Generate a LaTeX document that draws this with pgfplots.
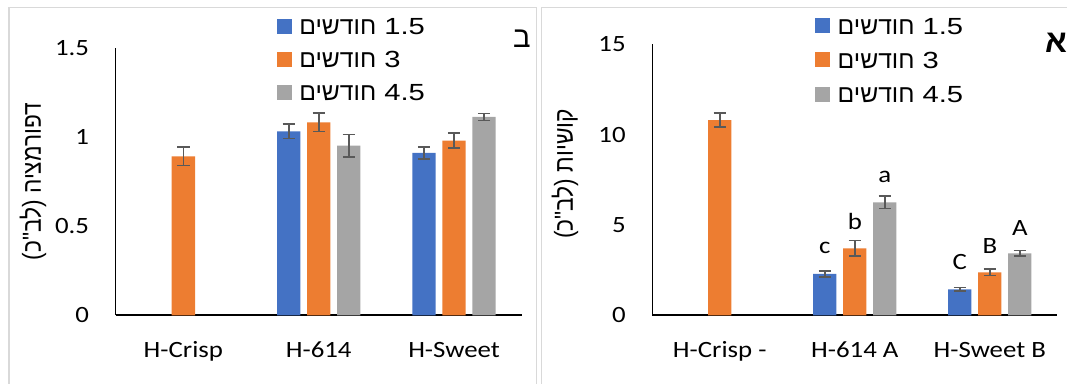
\documentclass[border=0pt]{standalone}
\usepackage{pgfplots}
\pgfplotsset{compat=1.18}
\usepackage{fontspec}
\setmainfont{Carlito}
\newfontfamily\tickfont[FakeStretch=1.15]{Carlito}
\newfontfamily\hebfont[Script=Hebrew]{Liberation Sans}
\newfontfamily\numfont[FakeStretch=1.25]{Liberation Sans}
\TeXXeTstate=1
\definecolor{cblue}{HTML}{4472C4}
\definecolor{corange}{HTML}{ED7D31}
\definecolor{cgray}{HTML}{A5A5A5}
\definecolor{errgray}{HTML}{595959}
\definecolor{framegray}{HTML}{D9D9D9}
\pgfplotsset{
  panel/.style={
    scale only axis,
    clip=false,
    ybar,
    bar width=17.5pt,
    enlargelimits=false,
    xmin=-0.5, xmax=2.5, ymin=0,
    xtick={0,1,2},
    axis x line=bottom, axis y line=left,
    x axis line style={-, line width=1.25pt, black},
    y axis line style={-, line width=0.7pt, black},
    major tick length=0pt,
    tick style={draw=none},
    yticklabel style={font=\tickfont\fontsize{17.5}{20}\selectfont, inner sep=0pt, anchor=east, xshift=-19.8pt},
    xticklabel style={font=\tickfont\fontsize{17.5}{20}\selectfont, inner sep=0pt, anchor=base, yshift=-32pt},
    legend cell align=left,
    legend style={draw=none, fill=none, inner sep=0pt, column sep=5.5pt,
      font=\hebfont\fontsize{18.5}{22}\selectfont,
      nodes={inner sep=0pt, text height=12.5pt, text depth=0pt}},
    legend image code/.code={\fill[##1] (0pt,-5.625pt) rectangle (11.25pt,5.625pt);},
    error bars/y dir=both, error bars/y explicit,
    error bars/error bar style={line width=1.2pt, errgray},
    error bars/error mark options={line width=1.2pt, errgray, mark size=4.6pt, rotate=90},
  },
}
\newcommand{\legtext}[1]{{\hebfont\beginR חודשים\endR}\hspace{6pt}{\numfont\fontsize{17.5}{20}\selectfont #1}}
\begin{document}
\begin{tikzpicture}
\useasboundingbox (0,0) rectangle (800.25pt,-287.25pt);
% panel frames
\draw[framegray, line width=1.1pt] (6.75pt,-300pt) -- (6.75pt,-5.5pt) -- (402.5pt,-5.5pt) -- (402.5pt,-300pt);
\draw[framegray, line width=1.1pt] (406.3pt,-300pt) -- (406.3pt,-5.5pt) -- (810pt,-5.5pt);

% ---------------- left panel (ב) ----------------
\begin{axis}[panel,
  at={(86.78pt,-236.48pt)}, anchor=south west,
  width=304.5pt, height=200.7pt,
  ymax=1.5, ytick={0,0.5,1,1.5}, yticklabels={0,0.5,1,1.5},
  xticklabels={H-Crisp,H-614,H-Sweet},
  legend style={at={(0.3966,1.111)}, anchor=north west, row sep=12.1pt},
]
\addlegendimage{fill=cblue, draw=none}
\addlegendimage{fill=corange, draw=none}
\addlegendimage{fill=cgray, draw=none}
\addplot[fill=cblue, draw=none, bar shift=-22.5pt, forget plot] coordinates {
  (1,1.031) +- (0,0.041)
  (2,0.910) +- (0,0.034)
};
\addplot[fill=corange, draw=none, bar shift=0pt, forget plot] coordinates {
  (0,0.891) +- (0,0.052)
  (1,1.082) +- (0,0.052)
  (2,0.979) +- (0,0.042)
};
\addplot[fill=cgray, draw=none, bar shift=22.5pt, forget plot] coordinates {
  (1,0.951) +- (0,0.062)
  (2,1.112) +- (0,0.020)
};
\legend{\legtext{1.5},\legtext{3},\legtext{4.5}}
\end{axis}

% ---------------- right panel (א) ----------------
\begin{axis}[panel,
  at={(489.23pt,-236.48pt)}, anchor=south west,
  width=303.75pt, height=203.25pt,
  ymax=15, ytick={0,5,10,15}, yticklabels={0,5,10,15},
  xticklabels={H-Crisp -,H-614 A,H-Sweet B},
  legend style={at={(0.4017,1.100)}, anchor=north west, row sep=13.1pt},
]
\addlegendimage{fill=cblue, draw=none}
\addlegendimage{fill=corange, draw=none}
\addlegendimage{fill=cgray, draw=none}
\addplot[fill=cblue, draw=none, bar shift=-22.5pt, forget plot] coordinates {
  (1,2.29) +- (0,0.17)
  (2,1.44) +- (0,0.11)
};
\addplot[fill=corange, draw=none, bar shift=0pt, forget plot] coordinates {
  (0,10.81) +- (0,0.40)
  (1,3.71) +- (0,0.43)
  (2,2.38) +- (0,0.17)
};
\addplot[fill=cgray, draw=none, bar shift=22.5pt, forget plot] coordinates {
  (1,6.25) +- (0,0.34)
  (2,3.43) +- (0,0.16)
};
\legend{\legtext{1.5},\legtext{3},\legtext{4.5}}
\begin{scope}[every node/.style={font=\tickfont\fontsize{17.5}{20}\selectfont, inner sep=0pt}]
\node[xshift=-22.5pt] at (axis cs:1,3.71) {c};
\node at (axis cs:1,5.18) {b};
\node[xshift=22.5pt] at (axis cs:1,7.67) {a};
\node[xshift=-22.5pt] at (axis cs:2,2.97) {C};
\node at (axis cs:2,3.85) {B};
\node[xshift=22.5pt] at (axis cs:2,4.85) {A};
\end{scope}
\end{axis}

% axis titles (rotated Hebrew)
\node[rotate=90, yscale=1.15, font=\hebfont\fontsize{17}{20}\selectfont, inner sep=0pt] at (24.75pt,-136.3pt) {\beginR דפורמציה (לב"כ)\endR};
\node[rotate=90, yscale=1.15, font=\hebfont\fontsize{17}{20}\selectfont, inner sep=0pt] at (423.75pt,-130.5pt) {\beginR קושיות (לב"כ)\endR};
% panel letters
\node[font=\hebfont\fontsize{22}{24}\selectfont, inner sep=0pt] at (391.5pt,-28.7pt) {\beginR ב\endR};
\node[font=\hebfont\bfseries\fontsize{24}{26}\selectfont, inner sep=0pt] at (792pt,-31.9pt) {\beginR א\endR};
\end{tikzpicture}
\end{document}
